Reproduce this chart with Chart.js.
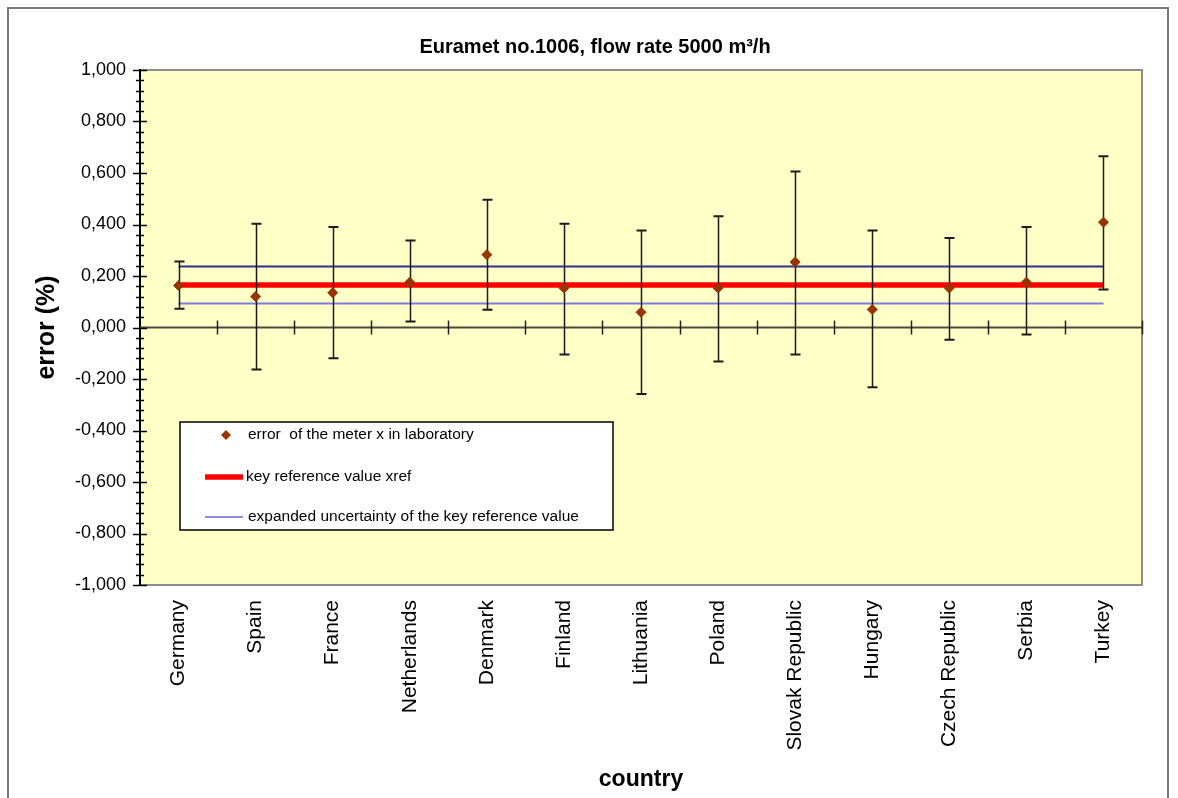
<!DOCTYPE html>
<html>
<head>
<meta charset="utf-8">
<title>Euramet no.1006, flow rate 5000 m³/h</title>
<script src="https://cdn.jsdelivr.net/npm/chart.js@4"></script>
<style>
  html, body { margin: 0; padding: 0; background: #ffffff; }
  canvas { display: block; }
</style>
</head>
<body>
<canvas id="chart" width="1178" height="798"></canvas>
<script>
// Participating laboratories
const countries = ['Germany', 'Spain', 'France', 'Netherlands', 'Denmark', 'Finland', 'Lithuania',
                   'Poland', 'Slovak Republic', 'Hungary', 'Czech Republic', 'Serbia', 'Turkey'];

// Error of the meter measured in each laboratory (%)
const labErrors = [0.163, 0.120, 0.135, 0.176, 0.283, 0.153, 0.059, 0.153, 0.254, 0.070, 0.153, 0.176, 0.409];

// Ends of each laboratory's uncertainty bar (%)
const barHigh = [0.256, 0.403, 0.390, 0.338, 0.496, 0.403, 0.377, 0.432, 0.606, 0.377, 0.348, 0.390, 0.665];
const barLow  = [0.073, -0.163, -0.119, 0.023, 0.069, -0.105, -0.258, -0.132, -0.105, -0.232, -0.048, -0.027, 0.148];

// Key reference value and the limits of its expanded uncertainty (%)
const xref = 0.165;
const xrefUpper = 0.237;
const xrefLower = 0.093;

// Value axis
const yMin = -1;
const yMax = 1;
const yMinorStep = 0.04;
const yMajorStep = 0.2;

const FONT = "'Liberation Sans', Arial, Helvetica, sans-serif";
Chart.defaults.font.family = FONT;
Chart.defaults.color = '#000';

const first = countries[0];
const last = countries[countries.length - 1];

// Page frame, plot background and border
const framePlugin = {
  id: 'frame',
  beforeDraw(chart) {
    const { ctx, chartArea: a } = chart;
    ctx.save();
    ctx.fillStyle = '#ffffff';
    ctx.fillRect(0, 0, chart.width, chart.height);
    ctx.strokeStyle = '#7a7a7a';
    ctx.lineWidth = 2;
    ctx.strokeRect(8, 8, 1160, 840);
    ctx.fillStyle = '#FFFFC8';
    ctx.fillRect(a.left, a.top, a.right - a.left, a.bottom - a.top);
    ctx.strokeStyle = '#8c8c8c';
    ctx.lineWidth = 2;
    ctx.strokeRect(a.left, a.top, a.right - a.left, a.bottom - a.top);
    ctx.restore();
  }
};

// Horizontal axis line through zero with cross ticks between categories
const zeroAxisPlugin = {
  id: 'zeroAxis',
  beforeDatasetsDraw(chart) {
    const { ctx, chartArea: a, scales: { x, y } } = chart;
    const y0 = y.getPixelForValue(0);
    ctx.save();
    ctx.strokeStyle = '#4a4a40';
    ctx.lineWidth = 2;
    ctx.beginPath();
    ctx.moveTo(a.left, y0);
    ctx.lineTo(a.right, y0);
    ctx.stroke();
    ctx.lineWidth = 1.5;
    ctx.strokeStyle = '#222';
    for (let i = 0; i < countries.length; i++) {
      const xb = Math.round(x.getPixelForValue(i + 0.5)) + 0.5;
      ctx.beginPath();
      ctx.moveTo(xb, y0 - 7);
      ctx.lineTo(xb, y0 + 7);
      ctx.stroke();
    }
    ctx.restore();
  }
};

// Cross-style tick marks on the value axis
const yTickPlugin = {
  id: 'yTicks',
  afterDraw(chart) {
    const { ctx, chartArea: a, scales: { y } } = chart;
    ctx.save();
    ctx.strokeStyle = '#000';
    ctx.lineWidth = 1.5;
    y.ticks.forEach(t => {
      const k = Math.round(t.value / yMajorStep);
      const major = Math.abs(t.value - k * yMajorStep) < 1e-6;
      const len = major ? 7 : 4;
      const p = Math.round(y.getPixelForValue(t.value)) + 0.5;
      ctx.beginPath();
      ctx.moveTo(a.left - len, p);
      ctx.lineTo(a.left + len, p);
      ctx.stroke();
    });
    ctx.restore();
  }
};

// Uncertainty bars of the laboratory results, drawn just beneath the markers
const errorBarPlugin = {
  id: 'errorBars',
  beforeDatasetDraw(chart, args) {
    if (args.index !== 0) return;
    const { ctx, scales: { x, y } } = chart;
    ctx.save();
    ctx.strokeStyle = '#1a1a1a';
    countries.forEach((c, i) => {
      const px = Math.round(x.getPixelForValue(i)) + 0.5;
      const top = y.getPixelForValue(barHigh[i]);
      const bot = y.getPixelForValue(barLow[i]);
      ctx.lineWidth = 1.5;
      ctx.beginPath();
      ctx.moveTo(px, top);
      ctx.lineTo(px, bot);
      ctx.stroke();
      ctx.lineWidth = 2;
      ctx.beginPath();
      ctx.moveTo(px - 5, top);
      ctx.lineTo(px + 5, top);
      ctx.moveTo(px - 5, bot);
      ctx.lineTo(px + 5, bot);
      ctx.stroke();
    });
    ctx.restore();
  }
};

// Boxed legend inside the plot area
const boxLegendPlugin = {
  id: 'boxLegend',
  afterDatasetsDraw(chart) {
    const { ctx, chartArea: a } = chart;
    const ds = chart.data.datasets;
    const bx = a.left + 40, by = a.top + 352, bw = 433, bh = 108;
    ctx.save();
    ctx.fillStyle = '#ffffff';
    ctx.fillRect(bx, by, bw, bh);
    ctx.strokeStyle = '#000';
    ctx.lineWidth = 1.5;
    ctx.strokeRect(bx, by, bw, bh);

    ctx.font = '15.5px ' + FONT;
    ctx.fillStyle = '#000';
    ctx.textBaseline = 'middle';
    ctx.textAlign = 'left';

    // markers
    const r1 = by + 13;
    ctx.fillStyle = ds[0].pointBackgroundColor;
    ctx.beginPath();
    ctx.moveTo(bx + 46, r1 - 5);
    ctx.lineTo(bx + 51, r1);
    ctx.lineTo(bx + 46, r1 + 5);
    ctx.lineTo(bx + 41, r1);
    ctx.closePath();
    ctx.fill();
    ctx.fillStyle = '#000';
    ctx.fillText(ds[0].label, bx + 68, r1);

    // reference value line
    const r2 = by + 55;
    ctx.strokeStyle = ds[1].borderColor;
    ctx.lineWidth = ds[1].borderWidth;
    ctx.beginPath();
    ctx.moveTo(bx + 25, r2);
    ctx.lineTo(bx + 63, r2);
    ctx.stroke();
    ctx.fillText(ds[1].label, bx + 66, r2);

    // uncertainty limit line
    const r3 = by + 95;
    ctx.strokeStyle = '#8a8ae0';
    ctx.lineWidth = 2;
    ctx.beginPath();
    ctx.moveTo(bx + 25, r3);
    ctx.lineTo(bx + 63, r3);
    ctx.stroke();
    ctx.fillText(ds[2].label, bx + 68, r3);
    ctx.restore();
  }
};

new Chart(document.getElementById('chart'), {
  type: 'line',
  data: {
    labels: countries,
    datasets: [
      {
        label: 'error  of the meter x in laboratory',
        data: labErrors,
        showLine: false,
        pointStyle: 'rectRot',
        pointRadius: 5,
        pointBackgroundColor: '#993300',
        pointBorderColor: '#993300',
        pointBorderWidth: 1
      },
      {
        label: 'key reference value xref',
        data: [{ x: first, y: xref }, { x: last, y: xref }],
        borderColor: '#ff0000',
        borderWidth: 5.5,
        pointRadius: 0
      },
      {
        label: 'expanded uncertainty of the key reference value',
        data: [{ x: first, y: xrefUpper }, { x: last, y: xrefUpper }],
        borderColor: '#30308f',
        borderWidth: 2,
        pointRadius: 0
      },
      {
        label: 'expanded uncertainty of the key reference value',
        data: [{ x: first, y: xrefLower }, { x: last, y: xrefLower }],
        borderColor: '#7c7cdc',
        borderWidth: 2,
        pointRadius: 0
      }
    ]
  },
  options: {
    responsive: false,
    animation: false,
    events: [],
    layout: { padding: { left: 48, right: 36, top: 25, bottom: 0 } },
    plugins: {
      legend: { display: false },
      tooltip: { enabled: false },
      title: {
        display: true,
        text: 'Euramet no.1006, flow rate 5000 m³/h',
        color: '#000',
        font: { size: 20, weight: 'bold' },
        padding: { top: 10, bottom: 11 }
      }
    },
    scales: {
      x: {
        type: 'category',
        offset: true,
        afterFit(s) { s.height = 213; },
        grid: { display: false, drawTicks: false },
        border: { display: false },
        ticks: {
          autoSkip: false,
          minRotation: 90,
          maxRotation: 90,
          padding: 15,
          color: '#000',
          font: { size: 21 }
        },
        title: {
          display: true,
          text: 'country',
          color: '#000',
          font: { size: 23, weight: 'bold' },
          padding: { top: 0, bottom: 5 }
        }
      },
      y: {
        min: yMin,
        max: yMax,
        afterFit(s) { s.width = 92; },
        grid: {
          display: true,
          drawOnChartArea: false,
          drawTicks: true,
          tickLength: 7,
          tickColor: 'rgba(0,0,0,0)'
        },
        border: { display: true, color: '#000', width: 2 },
        ticks: {
          stepSize: yMinorStep,
          maxTicksLimit: 100,
          autoSkip: false,
          padding: 7,
          color: '#000',
          font: { size: 18 },
          callback(v) {
            const k = Math.round(v / yMajorStep);
            if (Math.abs(v - k * yMajorStep) > 1e-6) return '';
            return (k * yMajorStep).toFixed(3).replace('.', ',');
          }
        },
        title: {
          display: true,
          text: 'error (%)',
          color: '#000',
          font: { size: 25, weight: 'bold' },
          padding: { top: -15.9, bottom: 0 }
        }
      }
    }
  },
  plugins: [framePlugin, zeroAxisPlugin, errorBarPlugin, boxLegendPlugin, yTickPlugin]
});
</script>
</body>
</html>
